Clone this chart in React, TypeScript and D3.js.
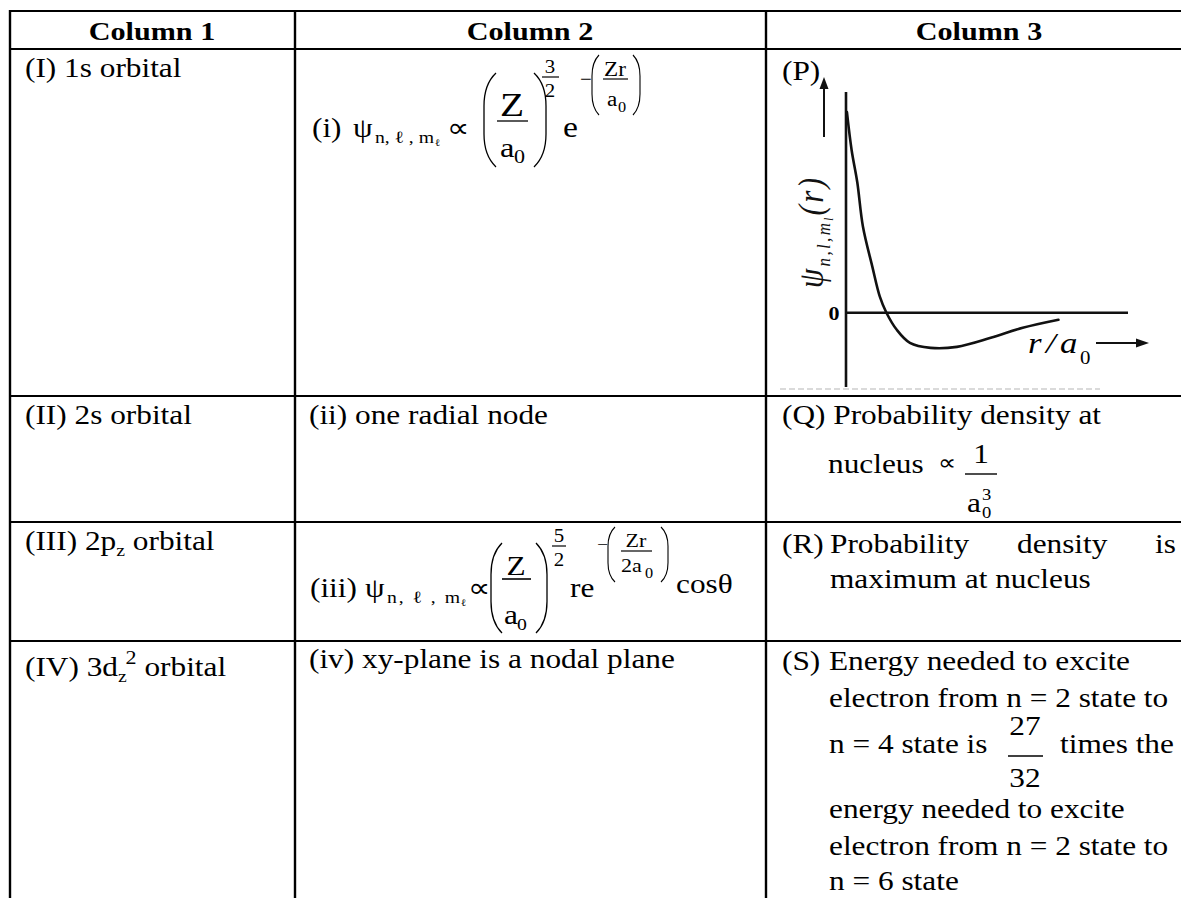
import React from 'react';
import * as d3 from 'd3';

// table text
const headers = ['Column 1', 'Column 2', 'Column 3'];
const orbitals = [
  { label: '(I) 1s orbital' },
  { label: '(II) 2s orbital' },
  { label: '(III) 2p', sub: 'z', after: ' orbital' },
  { label: '(IV) 3d', sub: 'z', sup: '2', after: ' orbital' },
];
const properties = ['(ii) one radial node', '(iv) xy-plane is a nodal plane'];
const qLines = ['(Q) Probability density at', 'nucleus'];
const rWords = ['(R)', 'Probability', 'density', 'is'];
const rLine2 = 'maximum at nucleus';
const sLines = [
  'Energy needed to excite',
  'electron from n = 2 state to',
  'n = 4 state is',
  'energy needed to excite',
  'electron from n = 2 state to',
  'n = 6 state',
];

// (P) radial wave function
const rOverA0 = [0.05, 0.3, 0.6, 0.9, 1.4, 1.8, 2.15, 2.7, 3.4, 4.5, 5.9, 7.7, 9.4, 11.3];
const psiValues = [1.0, 0.81, 0.65, 0.43, 0.23, 0.08, 0, -0.085, -0.15, -0.175, -0.17, -0.125, -0.075, -0.035];
const yTickLabels = ['0'];

const SX = 1.16; // the scan is a bit stretched sideways
const FS = 27;
const FONT = "'Liberation Serif', 'Times New Roman', serif";

const T = ({ x, y, size = FS, weight, italic, anchor = 'start', len, children }: any) => (
  <text
    transform={`translate(${x},${y}) scale(${SX},1)`}
    fontSize={size}
    fontWeight={weight}
    fontStyle={italic ? 'italic' : undefined}
    textAnchor={anchor}
    fontFamily={FONT}
    fill="#000"
    textLength={len ? len / SX : undefined}
    lengthAdjust={len ? 'spacing' : undefined}
  >
    {children}
  </text>
);

const paren = (x: number, top: number, bottom: number, side: 'l' | 'r', w = 8) => {
  const h = bottom - top;
  const e = side === 'l' ? x + w : x - w;
  return `M${e},${top} Q${x},${top + h * 0.12} ${x},${top + h * 0.35} L${x},${bottom - h * 0.35} Q${x},${bottom - h * 0.12} ${e},${bottom}`;
};

const Psi = ({ x, y, subLen }: any) => (
  <>
    <T x={x} y={y}>ψ</T>
    <T x={x + 22} y={y + 6} size={17} len={subLen - 9}>
      n, ℓ , m
    </T>
    <T x={x + 22 + subLen - 8} y={y + 9} size={10}>ℓ</T>
  </>
);

export default function App() {
  const W = 1181;
  const H = 898;
  const rowLines = [11, 49, 396, 522, 641];
  const colLines = [10, 295, 766];
  const colCenters = [152, 530, 979];

  const x = d3.scaleLinear().domain([0, 15]).range([846, 1128]);
  const y = d3.scaleLinear().domain([-0.37, 1.1]).range([387, 92]);
  const pts: [number, number][] = rOverA0.map((r, i) => [r, psiValues[i]]);
  const curve = d3
    .line<[number, number]>()
    .x((d) => x(d[0]))
    .y((d) => y(d[1]))
    .curve(d3.curveCatmullRom.alpha(0.5))(pts);

  const sBase = [670, 707, 753, 818, 855, 890];

  return (
    <svg
      width={W}
      height={H}
      style={{ position: 'absolute', left: 0, top: 0, background: '#fff', display: 'block' }}
    >
      <rect width={W} height={H} fill="#fff" />

      {/* grid */}
      {rowLines.map((ry, i) => (
        <line key={'h' + i} x1={colLines[0] - 1} x2={W} y1={ry} y2={ry} stroke="#000" strokeWidth={2.2} />
      ))}
      {colLines.map((cx, i) => (
        <line key={'v' + i} x1={cx} x2={cx} y1={rowLines[0] - 1} y2={H} stroke="#000" strokeWidth={2.4} />
      ))}

      {/* header */}
      {headers.map((h, i) => (
        <T key={h} x={colCenters[i]} y={40} size={26} weight={700} anchor="middle">{h}</T>
      ))}

      {/* column 1 */}
      {orbitals.map((o, i) => {
        const by = [77, 424, 550, 676][i];
        return (
          <T key={o.label} x={25} y={by}>
            {o.label}
            {o.sub && (
              <tspan dy={6} fontSize={17}>{o.sub}</tspan>
            )}
            {o.sup && (
              <tspan dx={-1} dy={-18} fontSize={19}>{o.sup}</tspan>
            )}
            {o.after && <tspan dy={o.sup ? 12 : -6}>{o.after}</tspan>}
          </T>
        );
      })}

      {/* column 2: formula (i) */}
      <T x={312} y={137}>(i)</T>
      <Psi x={353} y={137} subLen={68} />
      <T x={447} y={137}>∝</T>
      <path d={paren(484, 73, 167, 'l', 12)} fill="none" stroke="#000" strokeWidth={1.3} />
      <path d={paren(546, 73, 167, 'r', 12)} fill="none" stroke="#000" strokeWidth={1.3} />
      <T x={512} y={116} size={34} anchor="middle">Z</T>
      <line x1={497} x2={528} y1={121} y2={121} stroke="#000" strokeWidth={1.3} />
      <T x={500} y={157} size={28}>a</T>
      <T x={514} y={163} size={19}>0</T>
      <T x={550} y={73} size={18} anchor="middle">3</T>
      <line x1={542} x2={559} y1={77} y2={77} stroke="#000" strokeWidth={1.2} />
      <T x={550} y={97} size={18} anchor="middle">2</T>
      <T x={563} y={137} size={29}>e</T>
      <T x={580} y={85} size={18}>−</T>
      <path d={paren(592, 55, 115, 'l', 7)} fill="none" stroke="#000" strokeWidth={1.1} />
      <path d={paren(640, 55, 115, 'r', 7)} fill="none" stroke="#000" strokeWidth={1.1} />
      <T x={615} y={76} size={20} anchor="middle">Zr</T>
      <line x1={603} x2={628} y1={79} y2={79} stroke="#000" strokeWidth={1.2} />
      <T x={607} y={106} size={20}>a</T>
      <T x={618} y={112} size={14}>0</T>

      <T x={309} y={424}>{properties[0]}</T>

      {/* column 2: formula (iii) */}
      <T x={310} y={597}>(iii)</T>
      <Psi x={365} y={597} subLen={82} />
      <T x={468} y={597}>∝</T>
      <path d={paren(491, 543, 633, 'l', 11)} fill="none" stroke="#000" strokeWidth={1.3} />
      <path d={paren(547, 543, 633, 'r', 11)} fill="none" stroke="#000" strokeWidth={1.3} />
      <T x={516} y={575} anchor="middle">Z</T>
      <line x1={502} x2={531} y1={579} y2={579} stroke="#000" strokeWidth={1.6} />
      <T x={504} y={624}>a</T>
      <T x={517} y={630} size={17}>0</T>
      <T x={559} y={542} size={18} anchor="middle">5</T>
      <line x1={552} x2={566} y1={546} y2={546} stroke="#000" strokeWidth={1.2} />
      <T x={559} y={566} size={18} anchor="middle">2</T>
      <T x={570} y={597}>re</T>
      <T x={597} y={550} size={17}>−</T>
      <path d={paren(608, 527, 582, 'l', 7)} fill="none" stroke="#000" strokeWidth={1.1} />
      <path d={paren(668, 527, 582, 'r', 7)} fill="none" stroke="#000" strokeWidth={1.1} />
      <T x={636} y={547} size={19} anchor="middle">Zr</T>
      <line x1={621} x2={652} y1={551} y2={551} stroke="#000" strokeWidth={1.2} />
      <T x={621} y={572} size={19}>2a</T>
      <T x={645} y={578} size={14}>0</T>
      <T x={676} y={593}>cosθ</T>

      <T x={309} y={668}>{properties[1]}</T>

      {/* column 3: (P) graph */}
      <T x={782} y={80}>(P)</T>
      <line x1={x(0)} x2={x(0)} y1={y(1.1)} y2={y(-0.37)} stroke="#111" strokeWidth={2.6} />
      <line x1={x(0)} x2={x(15)} y1={y(0)} y2={y(0)} stroke="#111" strokeWidth={2.4} />
      <path d={curve || ''} fill="none" stroke="#111" strokeWidth={2.6} strokeLinecap="round" />
      <line x1={780} x2={1100} y1={389} y2={389} stroke="#dadada" strokeWidth={2} strokeDasharray="6 3" />
      {yTickLabels.map((t) => (
        <T key={t} x={834} y={y(0) + 7} size={19} weight={700} anchor="middle">{t}</T>
      ))}
      <line x1={824} x2={824} y1={137} y2={86} stroke="#111" strokeWidth={2} />
      <path d="M824,77 L819.5,89 L828.5,89 Z" fill="#111" />
      <text
        transform={`translate(823,288) scale(${SX},1) rotate(-90)`}
        fontSize={31}
        fontStyle="italic"
        fontFamily={FONT}
        fill="#111"
        textLength={110}
        lengthAdjust="spacing"
      >
        ψ
        <tspan dy={6} fontSize={17}>n,l,m</tspan>
        <tspan dy={3} fontSize={11}>l</tspan>
        <tspan dy={-9}>(r)</tspan>
      </text>
      <T x={1028} y={353} size={30} italic>r</T>
      <T x={1046} y={353} size={30} italic>/</T>
      <T x={1060} y={353} size={30} italic>a</T>
      <T x={1080} y={364} size={18}>0</T>
      <line x1={1096} x2={1140} y1={343} y2={343} stroke="#111" strokeWidth={1.8} />
      <path d="M1149,343 L1136,338.5 L1136,347.5 Z" fill="#111" />

      {/* column 3: (Q) */}
      <T x={782} y={424}>{qLines[0]}</T>
      <T x={828} y={473}>{qLines[1]}</T>
      <T x={938} y={470} size={22}>∝</T>
      <T x={981} y={463} anchor="middle">1</T>
      <line x1={965} x2={997} y1={474} y2={474} stroke="#000" strokeWidth={1.4} />
      <T x={967} y={512}>a</T>
      <T x={982} y={500} size={16}>3</T>
      <T x={982} y={518} size={16}>0</T>

      {/* column 3: (R) */}
      {rWords.map((w, i) => (
        <T key={w} x={[782, 830, 1017, 1155][i]} y={553}>{w}</T>
      ))}
      <T x={830} y={588}>{rLine2}</T>

      {/* column 3: (S) */}
      <T x={782} y={sBase[0]}>(S)</T>
      {sLines.map((l, i) => (
        <T key={i} x={829} y={sBase[i]}>{l}</T>
      ))}
      <T x={1025} y={735} anchor="middle">27</T>
      <line x1={1008} x2={1043} y1={756} y2={756} stroke="#000" strokeWidth={1.4} />
      <T x={1025} y={787} anchor="middle">32</T>
      <T x={1060} y={753}>times the</T>
    </svg>
  );
}
